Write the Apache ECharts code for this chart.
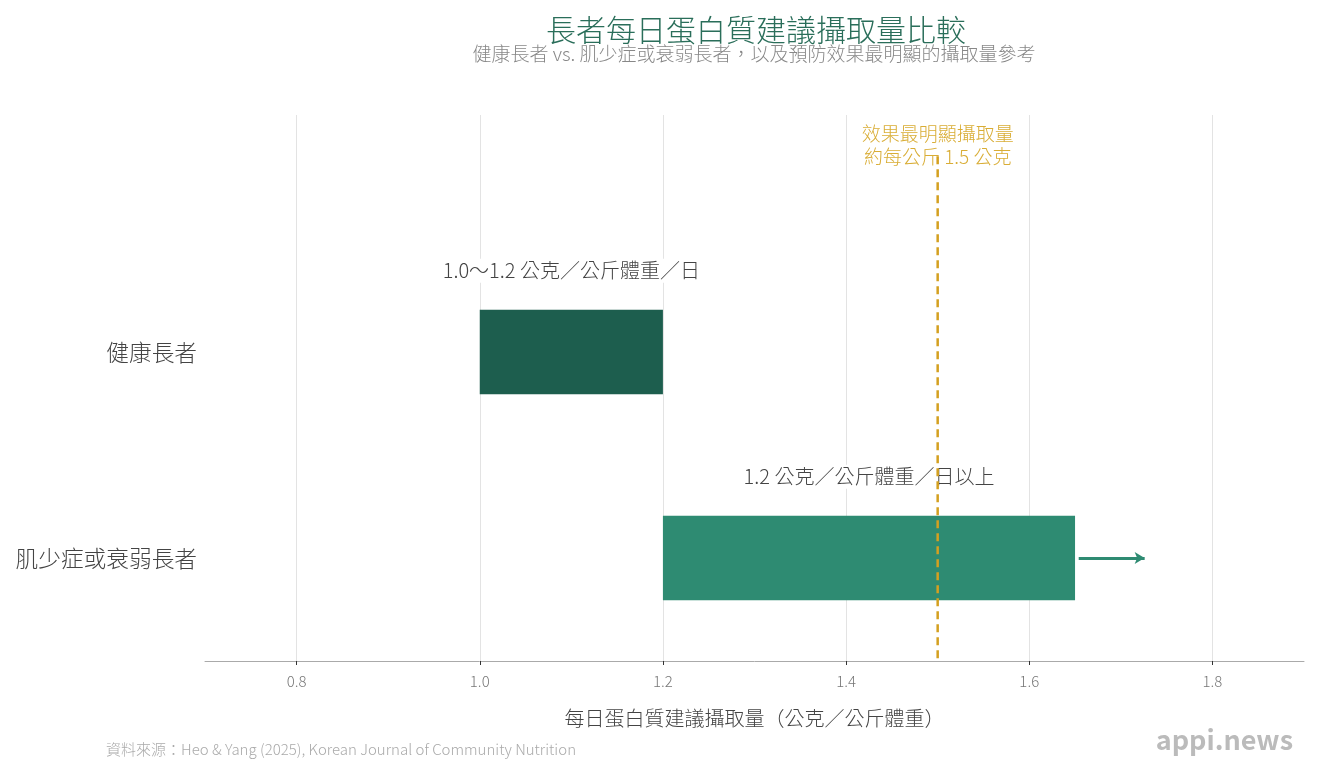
<!DOCTYPE html>
<html>
<head>
<meta charset="utf-8">
<script src="https://cdn.jsdelivr.net/npm/echarts@6/dist/echarts.min.js"></script>
<style>
  html, body { margin: 0; padding: 0; background: #fff; }
  #chart { width: 1320px; height: 770px; }
</style>
</head>
<body>
<div id="chart"></div>
<script>
"use strict";
var fontFamily = '"Noto Sans CJK TC", "Noto Sans", sans-serif';

// data
var groups = ['肌少症或衰弱長者', '健康長者'];
var rangeLow = [1.2, 1.0];
var rangeHigh = [1.65, 1.2];
var rangeLabels = ['1.2 公克／公斤體重／日以上', '1.0～1.2 公克／公斤體重／日'];
var barColors = ['#2e8b72', '#1d5e4e'];
var openEnded = [true, false];
var arrowEnd = 1.726;
var refValue = 1.5;
var refLabel = '效果最明顯攝取量\n約每公斤 1.5 公克';

var barData = groups.map(function (g, i) {
	return [rangeLow[i], rangeHigh[i], i];
});

var chart = echarts.init(document.getElementById('chart'));

chart.setOption({
	animation : false,
	textStyle : { fontFamily : fontFamily },
	grid : { left : 205, right : 16, top : 115, bottom : 109 },
	graphic : [ {
		type : 'text', x : 756, y : 30,
		style : { text : '長者每日蛋白質建議攝取量比較', align : 'center', verticalAlign : 'middle',
			fill : '#2a6e5a', font : '300 30px ' + fontFamily }
	}, {
		type : 'text', x : 754, y : 54,
		style : { text : '健康長者 vs. 肌少症或衰弱長者，以及預防效果最明顯的攝取量參考', align : 'center', verticalAlign : 'middle',
			fill : '#888', font : '300 19px ' + fontFamily }
	}, {
		type : 'text', x : 106, y : 749,
		style : { text : '資料來源：Heo & Yang (2025), Korean Journal of Community Nutrition', align : 'left', verticalAlign : 'middle',
			fill : '#aaa', font : '300 15px ' + fontFamily }
	}, {
		type : 'text', x : 1293, y : 740,
		style : { text : 'appi.news', align : 'right', verticalAlign : 'middle',
			fill : '#bbb', font : 'bold 27px ' + fontFamily }
	} ],
	xAxis : {
		type : 'value',
		min : 0.7,
		max : 1.9,
		splitNumber : 6,
		name : '每日蛋白質建議攝取量（公克／公斤體重）',
		nameLocation : 'middle',
		nameGap : 47,
		nameTextStyle : { fontSize : 20, color : '#444', fontWeight : 300 },
		axisLine : { show : true, onZero : false, lineStyle : { color : '#aaa', width : 1 } },
		axisTick : { show : true, length : 4, lineStyle : { color : '#333' } },
		axisLabel : {
			fontSize : 15, color : '#777', margin : 13, fontWeight : 300,
			showMinLabel : false, showMaxLabel : false,
			formatter : function (v) { return v.toFixed(1); }
		},
		splitLine : { show : true, showMinLine : false, showMaxLine : false, lineStyle : { color : '#e3e3e3', width : 1 } }
	},
	yAxis : {
		type : 'value',
		min : -0.5,
		max : 2.15,
		show : false
	},
	series : [ {
		type : 'custom',
		name : 'ranges',
		data : barData,
		renderItem : function (params, api) {
			var i = params.dataIndex;
			var lo = api.value(0), hi = api.value(1), y = api.value(2);
			var p0 = api.coord([lo, y]);
			var p1 = api.coord([hi, y]);
			var h = api.size([0, 0.41])[1];
			var left = api.coord([0.7, y]);
			var children = [ {
				type : 'rect',
				shape : { x : p0[0], y : p0[1] - h / 2, width : p1[0] - p0[0], height : h },
				style : { fill : barColors[i] }
			}, {
				type : 'text',
				x : (p0[0] + p1[0]) / 2, y : p0[1] - h / 2 - 39,
				style : { text : rangeLabels[i], align : 'center', verticalAlign : 'middle',
					fill : '#444', font : '300 20px ' + fontFamily,
					backgroundColor : '#fff', padding : [2, 4] }
			}, {
				type : 'text',
				x : left[0] - 8, y : left[1],
				style : { text : groups[i], align : 'right', verticalAlign : 'middle',
					fill : '#444', font : '300 22.7px ' + fontFamily }
			} ];
			return { type : 'group', children : children };
		},
		markLine : {
			silent : true,
			symbol : [ 'none', 'arrow' ],
			symbolSize : [ 9, 10 ],
			label : { show : false },
			lineStyle : { color : '#2e8b72', width : 3, type : 'solid' },
			data : groups.map(function (g, i) {
				return openEnded[i] ? [ { coord : [ rangeHigh[i] + 0.004, i ] }, { coord : [ arrowEnd, i ] } ] : null;
			}).filter(function (d) { return d; })
		},
		z : 2
	}, {
		type : 'custom',
		name : 'ref',
		data : [ [ refValue ] ],
		renderItem : function (params, api) {
			var top = api.coord([api.value(0), 1.95]);
			var bottom = api.coord([api.value(0), -0.5]);
			return { type : 'group', children : [ {
				type : 'line',
				shape : { x1 : top[0], y1 : top[1], x2 : bottom[0], y2 : bottom[1] },
				style : { stroke : '#d4a020', lineWidth : 2.5, lineDash : [ 8, 5 ] }
			}, {
				type : 'text',
				x : top[0], y : top[1] - 11,
				style : { text : refLabel, align : 'center', verticalAlign : 'middle',
					fill : '#d9ad35', font : '300 19px ' + fontFamily, lineHeight : 23 }
			} ] };
		},
		z : 3
	} ]
});
</script>
</body>
</html>
